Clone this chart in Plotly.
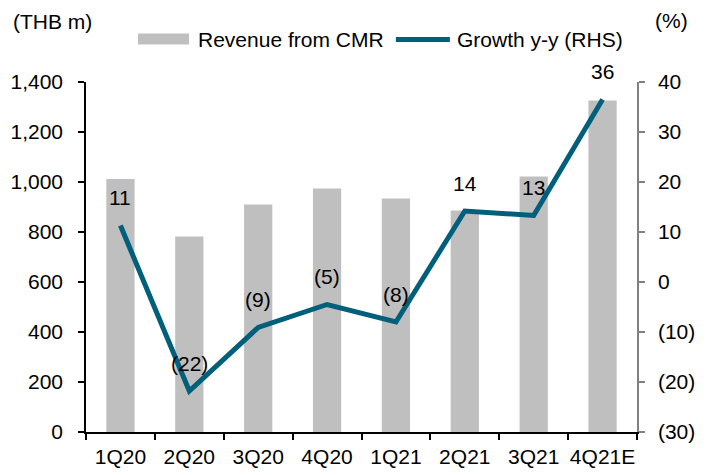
import plotly.graph_objects as go

categories = ["1Q20", "2Q20", "3Q20", "4Q20", "1Q21", "2Q21", "3Q21", "4Q21E"]
revenue = [1012, 782, 910, 974, 934, 886, 1022, 1326]
growth = [11.3, -21.8, -9.1, -4.5, -8.0, 14.2, 13.3, 36.5]
growth_labels = ["11", "(22)", "(9)", "(5)", "(8)", "14", "13", "36"]
left_ticks = [0, 200, 400, 600, 800, 1000, 1200, 1400]
left_ticktext = ["0", "200", "400", "600", "800", "1,000", "1,200", "1,400"]
right_ticks = [-30, -20, -10, 0, 10, 20, 30, 40]
right_ticktext = ["(30)", "(20)", "(10)", "0", "10", "20", "30", "40"]

BAR_COLOR = "#BFBFBF"
LINE_COLOR = "#005F7A"
FONT = "Liberation Sans, Arial, sans-serif"
FS = 21

# plot area in page pixels (reference): left 86.3, right 637, top 81.7, bottom 431.7
PX0, PW, PY1, PH = 86.3, 550.7, 431.7, 350.0


def px(x):
    return (x - PX0) / PW


def py(y):
    return (PY1 - y) / PH


fig = go.Figure()
fig.add_trace(go.Bar(x=categories, y=revenue, marker=dict(color=BAR_COLOR, line=dict(width=0)),
                     width=0.41, name="Revenue from CMR", yaxis="y"))
fig.add_trace(go.Scatter(x=categories, y=growth, mode="lines", line=dict(color=LINE_COLOR, width=5),
                         name="Growth y-y (RHS)", yaxis="y2"))

txtfont = dict(size=FS, color="black", family=FONT)
annotations = []
for c, g, t in zip(categories, growth, growth_labels):
    annotations.append(dict(x=c, y=g, xref="x", yref="y2", text=t, showarrow=False,
                            yshift=28, font=txtfont))

annotations.append(dict(x=px(11), y=py(21), xref="paper", yref="paper", text="(THB m)", showarrow=False,
                        xanchor="left", yanchor="middle", font=txtfont))
annotations.append(dict(x=px(653), y=py(20), xref="paper", yref="paper", text="(%)", showarrow=False,
                        xanchor="left", yanchor="middle", font=txtfont))
annotations.append(dict(x=px(196.7), y=py(39.7), xref="paper", yref="paper",
                        text="Revenue from CMR", showarrow=False, xanchor="left", yanchor="middle",
                        font=txtfont))
annotations.append(dict(x=px(455), y=py(39.7), xref="paper", yref="paper",
                        text="Growth y-y (RHS)", showarrow=False, xanchor="left", yanchor="middle",
                        font=txtfont))

shapes = [
    dict(type="rect", xref="paper", yref="paper",
         x0=px(138.3), x1=px(189.3), y0=py(44.3), y1=py(33.3),
         fillcolor=BAR_COLOR, line=dict(width=0)),
    dict(type="line", xref="paper", yref="paper",
         x0=px(396), x1=px(450), y0=py(39.3), y1=py(39.3),
         line=dict(color=LINE_COLOR, width=5)),
]

# page body has an 8px default margin; size the figure so it fits the 708x475 window
fig.update_layout(
    width=700, height=467,
    margin=dict(l=78, r=71, t=74, b=43, autoexpand=False),
    plot_bgcolor="white", paper_bgcolor="white",
    showlegend=False,
    font=dict(family=FONT, size=FS, color="black"),
    xaxis=dict(type="category", showline=True, linecolor="black", linewidth=1.5,
               ticks="outside", tickson="boundaries", ticklen=6, tickcolor="black", tickwidth=1.5,
               showgrid=False, tickfont=dict(size=FS), ticklabelstandoff=5, tickangle=0,
               automargin=False),
    yaxis=dict(range=[0, 1400], tickvals=left_ticks, ticktext=left_ticktext, showline=True,
               linecolor="black", linewidth=1.5, ticks="outside", ticklen=6, tickcolor="black",
               tickwidth=1.5, showgrid=False, zeroline=False, ticklabelstandoff=11,
               tickfont=dict(size=FS), automargin=False),
    yaxis2=dict(range=[-30, 40], tickvals=right_ticks, ticktext=right_ticktext, overlaying="y",
                side="right", showline=True, linecolor="#808080", linewidth=1.5, ticks="outside",
                ticklen=6, tickcolor="#808080", tickwidth=1.5, showgrid=False, zeroline=False,
                ticklabelstandoff=9, tickfont=dict(size=FS), automargin=False),
    annotations=annotations,
    shapes=shapes,
)

fig.write_html("out.html")
